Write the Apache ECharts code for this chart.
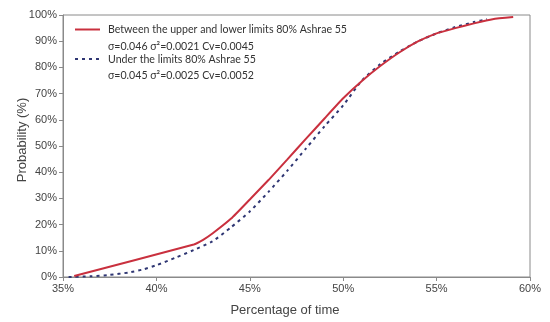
<!DOCTYPE html>
<html><head><meta charset="utf-8">
<script src="https://cdn.jsdelivr.net/npm/echarts@6/dist/echarts.min.js"></script>
<style>html,body{margin:0;padding:0;background:#fff}#c{width:550px;height:322px}</style>
</head><body><div id="c"></div>
<script>
var betweenX = [35.6, 42.0, 42.5, 43.0, 44.0, 45.0, 46.0, 47.0, 48.0, 49.0, 50.0, 51.0, 52.0, 53.0, 54.0, 55.0, 56.0, 57.0, 58.0, 59.1];
var betweenY = [0.4, 12.4, 14.2, 16.6, 22.3, 29.6, 37.0, 44.8, 52.7, 60.5, 68.2, 74.8, 80.6, 85.7, 89.9, 93.0, 95.0, 96.8, 98.4, 99.2];
var underX = [35.3, 36.5, 37.5, 38.5, 39.3, 40.0, 41.0, 42.0, 43.0, 44.0, 45.0, 46.0, 47.0, 48.0, 49.0, 50.0, 51.0, 52.0, 53.0, 54.0, 55.0, 56.0, 57.0, 57.7];
var underY = [0.0, 0.3, 0.8, 1.7, 2.9, 4.5, 7.3, 10.3, 13.6, 19.0, 25.0, 32.5, 40.5, 49.0, 57.5, 65.5, 75.0, 81.3, 86.0, 89.9, 93.0, 95.4, 97.3, 98.4];
var legendNames = ['Between the upper and lower limits 80% Ashrae 55', 'Under the limits 80% Ashrae 55'];
var legendStats = ['\u03c3=0.046 \u03c3\u00b2=0.0021 Cv=0.0045', '\u03c3=0.045 \u03c3\u00b2=0.0025 Cv=0.0052'];
var xTitle = 'Percentage of time';
var yTitle = 'Probability (%)';
var xTicks = [35, 40, 45, 50, 55, 60];
var yTicks = [0, 10, 20, 30, 40, 50, 60, 70, 80, 90, 100];

function pairs(xs, ys){ return xs.map(function(x,i){ return [x, ys[i]]; }); }
var red = '#c9303e', navy = '#2f3673';
var chart = echarts.init(document.getElementById('c'), null, {renderer:'canvas'});
var lblFont = {fontFamily:'Liberation Sans, Arial, sans-serif', fontSize:11, color:'#444'};
var legFont = '10.6px Lato, Open Sans, sans-serif';
var titleFont = '13px Liberation Sans, Arial, sans-serif';
chart.setOption({
  animation:false,
  grid:{left:63, right:20, top:15, bottom:45, show:true, borderColor:'#8a8a8a', borderWidth:1},
  xAxis:{type:'value', min:xTicks[0], max:xTicks[xTicks.length-1], interval:5,
    axisLine:{lineStyle:{color:'#8a8a8a', width:1}},
    axisTick:{show:true, length:4, lineStyle:{color:'#8a8a8a'}},
    axisLabel:Object.assign({formatter:'{value}%', margin:6}, lblFont),
    splitLine:{show:false}},
  yAxis:{type:'value', min:yTicks[0], max:yTicks[yTicks.length-1], interval:10,
    axisLine:{show:true, lineStyle:{color:'#8a8a8a', width:1}},
    axisTick:{show:true, length:4, lineStyle:{color:'#8a8a8a'}},
    axisLabel:Object.assign({formatter:'{value}%', margin:6}, lblFont),
    splitLine:{show:false}},
  series:[
    {name:legendNames[0], type:'line', data:pairs(betweenX, betweenY), symbol:'none', smooth:0.15,
      lineStyle:{color:red, width:2}, z:3},
    {name:legendNames[1], type:'line', data:pairs(underX, underY), symbol:'none', smooth:0.2,
      lineStyle:{color:navy, width:2, type:[3,4]}, z:2}
  ],
  graphic:[
    {type:'text', x:285, y:310, style:{text:xTitle, font:titleFont, fill:'#444', textAlign:'center', textVerticalAlign:'middle'}},
    {type:'text', x:22, y:140, rotation:Math.PI/2, style:{text:yTitle, font:titleFont, fill:'#444', textAlign:'center', textVerticalAlign:'middle'}},
    {type:'line', shape:{x1:75, y1:29.5, x2:100, y2:29.5}, style:{stroke:red, lineWidth:2}},
    {type:'text', x:108, y:30, style:{text:legendNames[0], font:legFont, fill:'#333', textVerticalAlign:'middle'}},
    {type:'text', x:108, y:46.5, style:{text:legendStats[0], font:legFont, fill:'#333', textVerticalAlign:'middle'}},
    {type:'line', shape:{x1:75, y1:59, x2:100, y2:59}, style:{stroke:navy, lineWidth:2, lineDash:[3,4]}},
    {type:'text', x:108, y:59.5, style:{text:legendNames[1], font:legFont, fill:'#333', textVerticalAlign:'middle'}},
    {type:'text', x:108, y:75.5, style:{text:legendStats[1], font:legFont, fill:'#333', textVerticalAlign:'middle'}}
  ]
});
</script></body></html>
